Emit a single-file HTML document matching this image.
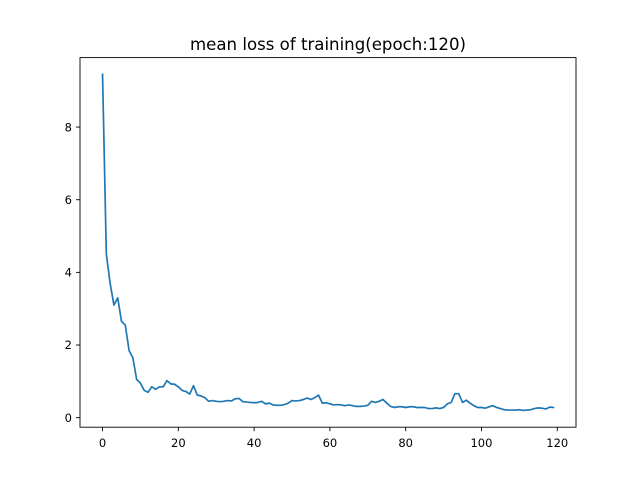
<!DOCTYPE html>
<html><head><meta charset="utf-8"><style>
body{margin:0;background:#fff}
svg{display:block;font-family:"DejaVu Sans","Liberation Sans",sans-serif}
</style></head><body>
<svg id="chart" width="640" height="480">
<rect width="640" height="480" fill="#fff"/>
<text x="328" y="50" text-anchor="middle" font-size="16.6">mean loss of training(epoch:120)</text>
<g id="plot"></g>
</svg>
<script>
const epochs = Array.from({length:120},(_,i)=>i);
const lossValues = [9.45,4.5,3.7,3.1,3.3,2.65,2.55,1.85,1.65,1.05,0.95,0.75,0.7,0.85,0.78,0.85,0.85,1.02,0.93,0.92,
0.85,0.75,0.72,0.65,0.88,0.62,0.6,0.55,0.45,0.47,0.45,0.44,0.45,0.47,0.46,0.52,0.53,0.44,0.43,0.42,
0.41,0.42,0.45,0.38,0.4,0.35,0.34,0.34,0.36,0.4,0.47,0.46,0.47,0.5,0.54,0.5,0.55,0.62,0.4,0.41,
0.38,0.35,0.36,0.35,0.33,0.35,0.33,0.31,0.31,0.32,0.34,0.45,0.42,0.45,0.5,0.4,0.31,0.28,0.3,0.3,
0.28,0.3,0.3,0.28,0.28,0.28,0.25,0.25,0.27,0.25,0.28,0.38,0.42,0.66,0.66,0.42,0.48,0.4,0.33,0.28,
0.28,0.26,0.3,0.33,0.28,0.25,0.22,0.21,0.21,0.21,0.22,0.2,0.21,0.22,0.25,0.27,0.26,0.24,0.29,0.28];
const xTicks = [0,20,40,60,80,100,120];
const yTicks = [0,2,4,6,8];

const L=80,R=576,T=57.6,B=427.2;
const xmin=Math.min(...epochs),xmax=Math.max(...epochs),xr=xmax-xmin;
const ymin=Math.min(...lossValues),ymax=Math.max(...lossValues),yr=ymax-ymin;
const x0=xmin-0.05*xr,x1=xmax+0.05*xr,y0=ymin-0.05*yr,y1=ymax+0.05*yr;
const sx=v=>L+(v-x0)/(x1-x0)*(R-L);
const sy=v=>B-(v-y0)/(y1-y0)*(B-T);
const NS='http://www.w3.org/2000/svg';
const g=document.getElementById('plot');
function mk(tag,attrs){const e=document.createElementNS(NS,tag);for(const k in attrs)e.setAttribute(k,attrs[k]);g.appendChild(e);return e;}

const line=mk('polyline',{points:epochs.map((e,i)=>sx(e).toFixed(2)+','+sy(lossValues[i]).toFixed(2)).join(' '),fill:'none',stroke:'#1f77b4','stroke-width':1.7,'stroke-linejoin':'round','stroke-linecap':'square'});



const frame=mk('rect',{x:L,y:T,width:R-L,height:B-T,fill:'none',stroke:'#000','stroke-width':0.9});



xTicks.forEach(t=>{
  const x=sx(t);
  const tk=mk('line',{x1:x,x2:x,y1:B,y2:B+4,stroke:'#000','stroke-width':0.9});
  
  
  const tx=mk('text',{x:x,y:B+20,'text-anchor':'middle','font-size':11.5});
  tx.textContent=t;
  
  
});
yTicks.forEach(t=>{
  const y=sy(t);
  const tk=mk('line',{x1:L-4,x2:L,y1:y,y2:y,stroke:'#000','stroke-width':0.9});
  
  
  const tx=mk('text',{x:L-8,y:y+4.2,'text-anchor':'end','font-size':11.5});
  tx.textContent=t;
  
  
});
</script>
</body></html>
